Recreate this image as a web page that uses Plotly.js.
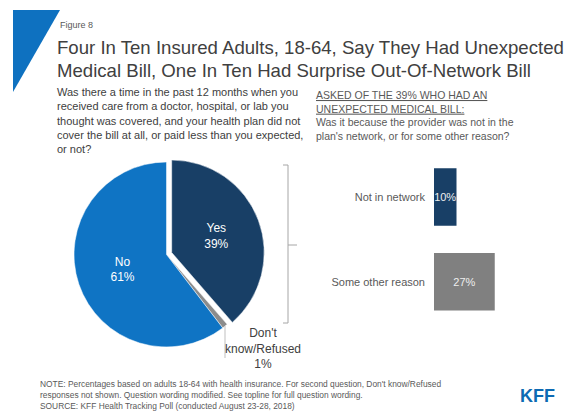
<!DOCTYPE html>
<html>
<head>
<meta charset="utf-8">
<script src="https://cdn.plot.ly/plotly-3.0.1.min.js"></script>
<style>
  html, body { margin: 0; padding: 0; background: #ffffff; }
  #chart { width: 572px; height: 411px; }
</style>
</head>
<body>
<div id="chart"></div>
<script>
// ---- Data ----
var pieLabels = ["Yes", "Don't know/Refused", "No"];
var pieValues = [39, 1, 61];
var barCategories = ["Not in network", "Some other reason"];
var barValues = [10, 27];

var titleLines = [
  "Four In Ten Insured Adults, 18-64, Say They Had Unexpected",
  "Medical Bill, One In Ten Had Surprise Out-Of-Network Bill"
];
var leftQuestion = "Was there a time in the past 12 months when you<br>received care from a doctor, hospital, or lab you<br>thought was covered, and your health plan did not<br>cover the bill at all, or paid less than you expected,<br>or not?";
var rightQuestion = "<u>ASKED OF THE 39% WHO HAD AN</u><br><u>UNEXPECTED MEDICAL BILL:</u><br>Was it because the provider was not in the<br>plan's network, or for some other reason?";
var footerLines = [
  "NOTE: Percentages based on adults 18-64 with health insurance. For second question, Don't know/Refused",
  "responses not shown. Question wording modified. See topline for full question wording.",
  "SOURCE: KFF Health Tracking Poll (conducted August 23-28, 2018)"
];

// ---- helpers (pixel -> paper) ----
var W = 572, H = 411;
function px(x) { return x / W; }
function py(y) { return 1 - y / H; }
function path(pts, close) {
  var s = pts.map(function (p, i) { return (i ? 'L' : 'M') + px(p[0]).toFixed(5) + ',' + py(p[1]).toFixed(5); }).join(' ');
  return close ? s + ' Z' : s;
}

var FONT = "Liberation Sans, Arial, sans-serif";
var pull = 0.06;

var pieTrace = {
  type: 'pie',
  labels: pieLabels,
  values: pieValues,
  sort: false,
  direction: 'clockwise',
  rotation: 0,
  pull: [pull, 0, 0],
  marker: { colors: ['#183f66', '#8c8c8c', '#0f74c4'], line: { color: '#ffffff', width: 0.5 } },
  texttemplate: pieLabels.map(function (l, i) { return i === 1 ? '' : l + '<br>' + pieValues[i] + '%'; }),
  textposition: ['inside', 'none', 'inside'],
  insidetextorientation: 'horizontal',
  textfont: { family: FONT, size: 12, color: '#ffffff' },
  hoverinfo: 'none',
  showlegend: false,
  domain: { x: [px(68.45), px(264.55)], y: [py(352.55), py(156.45)] }
};

var barTrace = {
  type: 'bar',
  orientation: 'h',
  x: barValues,
  y: barCategories,
  xaxis: 'x2',
  yaxis: 'y2',
  marker: { color: ['#183f66', '#808080'] },
  text: barValues.map(function (v) { return v + '%'; }),
  textposition: 'inside',
  insidetextanchor: 'middle',
  textangle: 0,
  constraintext: 'none',
  textfont: { family: FONT, size: 11, color: '#eeeeee' },
  hoverinfo: 'none',
  showlegend: false
};

var annotations = [
  { text: 'Figure 8', x: px(59), y: py(25), xanchor: 'left', yanchor: 'middle', font: { family: FONT, size: 9, color: '#595959' } },
  { text: titleLines[0], x: px(56), y: py(48), xanchor: 'left', yanchor: 'middle', font: { family: FONT, size: 18.6, color: '#404040' } },
  { text: titleLines[1], x: px(56), y: py(70.5), xanchor: 'left', yanchor: 'middle', font: { family: FONT, size: 18.6, color: '#404040' } },
  { text: leftQuestion, x: px(56), y: py(85), xanchor: 'left', yanchor: 'top', align: 'left', font: { family: FONT, size: 11, color: '#404040' } },
  { text: rightQuestion, x: px(315), y: py(88), xanchor: 'left', yanchor: 'top', align: 'left', font: { family: FONT, size: 10.5, color: '#595959' } },
  { text: "Don't<br>know/Refused<br>" + pieValues[1] + '%', x: px(263), y: py(325), xanchor: 'center', yanchor: 'top', align: 'center', font: { family: FONT, size: 12, color: '#404040' } },
  { text: footerLines.join('<br>'), x: px(39), y: py(394.5), xanchor: 'left', yanchor: 'middle', align: 'left', font: { family: FONT, size: 8.4, color: '#595959' } },
  { text: '<b>KFF</b>', x: px(537), y: py(396), xanchor: 'center', yanchor: 'middle', font: { family: FONT, size: 18, color: '#0d6ab3' } }
];
annotations.forEach(function (a) { a.xref = 'paper'; a.yref = 'paper'; a.showarrow = false; a.borderpad = 0; });

var shapes = [
  // blue corner triangle
  { type: 'path', path: path([[13, 10], [60, 10], [13, 92]], true), xref: 'paper', yref: 'paper', fillcolor: '#0e71c0', line: { width: 0 } },
  // bracket
  { type: 'path', path: path([[283, 165], [288, 165], [288, 323], [283, 323]], false), xref: 'paper', yref: 'paper', line: { color: '#a6a6a6', width: 1 } },
  { type: 'path', path: path([[288, 245], [297, 245]], false), xref: 'paper', yref: 'paper', line: { color: '#a6a6a6', width: 1 } },
  // leader for Don't know
  { type: 'path', path: path([[225, 326], [225, 358]], false), xref: 'paper', yref: 'paper', line: { color: '#bfbfbf', width: 1 } }
];

var layout = {
  width: W, height: H,
  margin: { l: 0, r: 0, t: 0, b: 0, pad: 0 },
  paper_bgcolor: '#ffffff',
  plot_bgcolor: 'rgba(0,0,0,0)',
  font: { family: FONT, color: '#404040' },
  bargap: 0.32,
  xaxis2: { domain: [px(434), px(434 + 50 * 2.25)], range: [0, 50], visible: false, fixedrange: true, anchor: 'y2' },
  yaxis2: {
    domain: [py(324.05), py(154.65)], type: 'category', autorange: 'reversed', anchor: 'x2',
    showgrid: false, zeroline: false, showline: false, ticks: '', ticklabelstandoff: 8,
    tickfont: { family: FONT, size: 11, color: '#595959' }, fixedrange: true
  },
  annotations: annotations,
  shapes: shapes
};

Plotly.newPlot('chart', [pieTrace, barTrace], layout, { displayModeBar: false, staticPlot: true });
</script>
</body>
</html>
